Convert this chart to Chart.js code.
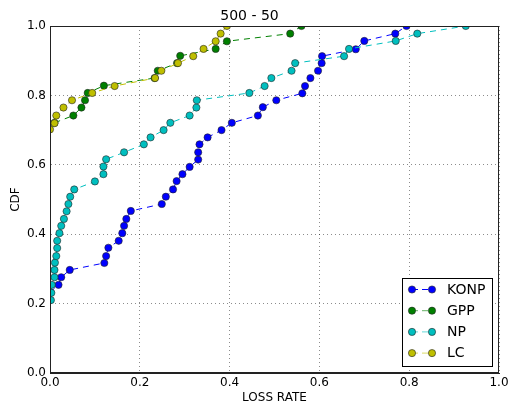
<!DOCTYPE html>
<html>
<head>
  <meta charset="UTF-8" />
  <title>500 - 50</title>
  <script src="https://cdn.jsdelivr.net/npm/chart.js"></script>
  <style>
    body { margin: 0; background: #fff; }
  </style>
</head>
<body>
  <canvas id="cdfChart" width="509" height="410"></canvas>

  <script>
    // CDF points per method (loss rate, cumulative share)
    const konpX = [0.0, 0.019, 0.025, 0.044, 0.121, 0.125, 0.130, 0.153, 0.161, 0.165, 0.170, 0.180, 0.249, 0.258, 0.274, 0.282, 0.295, 0.311, 0.330, 0.330, 0.333, 0.351, 0.382, 0.405, 0.463, 0.474, 0.504, 0.562, 0.568, 0.580, 0.597, 0.605, 0.606, 0.681, 0.700, 0.769, 0.794]
    const konpY = [0.233, 0.254, 0.276, 0.297, 0.317, 0.337, 0.361, 0.381, 0.403, 0.424, 0.444, 0.467, 0.487, 0.508, 0.529, 0.553, 0.573, 0.594, 0.615, 0.636, 0.659, 0.679, 0.700, 0.721, 0.742, 0.766, 0.786, 0.806, 0.827, 0.850, 0.871, 0.893, 0.913, 0.933, 0.957, 0.978, 1.0]

    const gppX = [0.010, 0.052, 0.070, 0.078, 0.084, 0.120, 0.233, 0.240, 0.283, 0.290, 0.369, 0.394, 0.535, 0.560]
    const gppY = [0.721, 0.742, 0.765, 0.786, 0.807, 0.828, 0.850, 0.871, 0.893, 0.914, 0.934, 0.956, 0.978, 1.0]

    const npX = [0.002, 0.003, 0.004, 0.010, 0.010, 0.011, 0.014, 0.016, 0.016, 0.021, 0.025, 0.031, 0.037, 0.041, 0.045, 0.054, 0.100, 0.119, 0.119, 0.125, 0.165, 0.209, 0.224, 0.253, 0.268, 0.311, 0.326, 0.327, 0.444, 0.478, 0.493, 0.538, 0.546, 0.655, 0.666, 0.770, 0.818, 0.926]
    const npY = [0.210, 0.231, 0.254, 0.276, 0.297, 0.318, 0.337, 0.360, 0.381, 0.403, 0.424, 0.444, 0.466, 0.487, 0.508, 0.529, 0.552, 0.573, 0.595, 0.616, 0.636, 0.659, 0.679, 0.700, 0.721, 0.742, 0.765, 0.786, 0.807, 0.827, 0.850, 0.871, 0.893, 0.913, 0.934, 0.957, 0.978, 1.0]

    const lcX = [0.0, 0.010, 0.014, 0.030, 0.049, 0.094, 0.144, 0.234, 0.248, 0.285, 0.319, 0.342, 0.369, 0.380, 0.394]
    const lcY = [0.702, 0.720, 0.742, 0.765, 0.786, 0.807, 0.827, 0.850, 0.871, 0.893, 0.913, 0.934, 0.956, 0.978, 1.0]

    const axisTicks = [0.0, 0.2, 0.4, 0.6, 0.8, 1.0]

    Chart.defaults.font.family = '"DejaVu Sans", sans-serif'
    Chart.defaults.color = '#000'

    function series(label, xs, ys, color, order) {
      return {
        label,
        data: xs.map((x, i) => ({ x, y: ys[i] })),
        showLine: true,
        borderColor: color,
        borderWidth: 1,
        borderDash: [6, 5],
        backgroundColor: color,
        pointBackgroundColor: color,
        pointBorderColor: '#222',
        pointBorderWidth: 0.6,
        pointRadius: 3.6,
        pointHoverRadius: 3.6,
        order,
        clip: 0
      }
    }

    // frame on all four sides + legend box inside the plot (lower right)
    const frameLegend = {
      id: 'frameLegend',
      afterDraw(chart) {
        const { ctx, chartArea: a } = chart
        ctx.save()
        ctx.strokeStyle = '#222'
        ctx.lineWidth = 1
        ctx.strokeRect(Math.round(a.left) + 0.5, Math.round(a.top) + 0.5, Math.round(a.right - a.left) - 1, Math.round(a.bottom - a.top) - 1)

        const bx = Math.round(a.right) - 97, by = Math.round(a.bottom) - 95
        ctx.fillStyle = '#fff'
        ctx.fillRect(bx, by, 90, 88)
        ctx.strokeStyle = '#000'
        ctx.strokeRect(bx + 0.5, by + 0.5, 90, 88)

        ctx.font = '14px "DejaVu Sans", sans-serif'
        ctx.textBaseline = 'middle'
        ctx.textAlign = 'left'
        chart.data.datasets.forEach((ds, i) => {
          const y = by + 11.5 + i * 21.2
          ctx.setLineDash([6, 4])
          ctx.strokeStyle = ds.borderColor
          ctx.beginPath(); ctx.moveTo(bx + 10, y); ctx.lineTo(bx + 30, y); ctx.stroke()
          ctx.setLineDash([])
          ;[bx + 10, bx + 30].forEach(mx => {
            ctx.beginPath(); ctx.arc(mx, y, 3.6, 0, Math.PI * 2)
            ctx.fillStyle = ds.pointBackgroundColor; ctx.fill()
            ctx.lineWidth = 0.6; ctx.strokeStyle = '#222'; ctx.stroke()
          })
          ctx.fillStyle = '#000'
          ctx.fillText(ds.label, bx + 45, y + 0.5)
        })
        ctx.restore()
      }
    }

    const gridOpts = { color: 'rgba(0,0,0,0.45)', lineWidth: 1, drawTicks: false }
    const tickFont = { size: 12 }

    new Chart(document.getElementById('cdfChart'), {
      type: 'scatter',
      data: {
        datasets: [
          series('KONP', konpX, konpY, '#0000ff', 4),
          series('GPP', gppX, gppY, '#008000', 3),
          series('NP', npX, npY, '#00bfbf', 2),
          series('LC', lcX, lcY, '#bfbf00', 1)
        ]
      },
      options: {
        responsive: false,
        animation: false,
        layout: { padding: { left: 0, right: 10, top: 0, bottom: 0 } },
        plugins: {
          legend: { display: false },
          tooltip: { enabled: false },
          title: {
            display: true,
            text: '500 - 50',
            color: '#000',
            font: { size: 14, weight: 'normal' },
            padding: { top: 8, bottom: 1.2 }
          }
        },
        scales: {
          x: {
            type: 'linear', min: 0, max: 1,
            afterBuildTicks: s => { s.ticks = axisTicks.map(v => ({ value: v })) },
            ticks: { callback: v => v.toFixed(1), padding: 3, font: tickFont, maxRotation: 0 },
            grid: gridOpts,
            border: { color: '#222', dash: [1, 3] },
            title: { display: true, text: 'LOSS RATE', font: tickFont, padding: { top: 0, bottom: 5 } },
            afterFit: s => { s.height = 37; s.paddingLeft = 0; s.paddingRight = 0 }
          },
          y: {
            type: 'linear', min: 0, max: 1,
            afterBuildTicks: s => { s.ticks = axisTicks.map(v => ({ value: v })) },
            ticks: { callback: v => v.toFixed(1), padding: 4, font: tickFont },
            grid: gridOpts,
            border: { color: '#222', dash: [1, 3] },
            title: { display: true, text: 'CDF', font: tickFont, padding: { top: 9, bottom: 0 } },
            afterFit: s => { s.width = 50; s.paddingTop = 0; s.paddingBottom = 0 }
          }
        }
      },
      plugins: [frameLegend]
    })
  </script>
</body>
</html>
